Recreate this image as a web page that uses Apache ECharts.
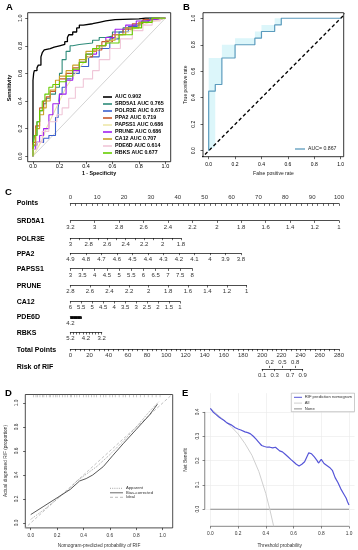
<!DOCTYPE html>
<html><head><meta charset="utf-8">
<script src="https://cdn.jsdelivr.net/npm/echarts@6/dist/echarts.min.js"></script>
<style>html,body{margin:0;padding:0;background:#fff}#c{width:358px;height:550px}</style>
</head><body><div id="c"></div>
<script>
// ---------------- DATA ----------------
// Panel A: ROC curves [1-specificity, sensitivity]
const rocNames = ['AUC 0.902','SRD5A1 AUC 0.765','POLR3E AUC 0.673','PPA2 AUC 0.719','PAPSS1 AUC 0.686','PRUNE AUC 0.686','CA12 AUC 0.707','PDE6D AUC 0.614','RBKS AUC 0.677'];
const rocColors = ['#000000','#2e8b7a','#3a5fcd','#c8582a','#eee8aa','#a020f0','#c9a227','#f0c6d8','#66cd00'];
const rocCombined = [[0,0],[0,0.48],[0.005,0.55],[0.01,0.6],[0.03,0.62],[0.04,0.64],[0.06,0.66],[0.07,0.72],[0.085,0.75],[0.1,0.77],[0.13,0.78],[0.16,0.79],[0.2,0.8],[0.24,0.81],[0.26,0.83],[0.27,0.86],[0.3,0.88],[0.33,0.9],[0.35,0.93],[0.38,0.95],[0.45,0.96],[0.5,0.97],[0.55,0.98],[0.62,0.99],[0.8,0.995],[0.85,1],[1,1]];
const rocSRD5A1 = [[0,0],[0.01,0.08],[0.03,0.15],[0.05,0.25],[0.08,0.33],[0.1,0.38],[0.13,0.42],[0.17,0.45],[0.2,0.5],[0.22,0.6],[0.25,0.7],[0.28,0.76],[0.3,0.8],[0.35,0.81],[0.45,0.82],[0.5,0.84],[0.55,0.86],[0.6,0.87],[0.68,0.9],[0.75,0.93],[0.82,0.95],[0.88,0.98],[0.93,1],[1,1]];
const rocPOLR3E = [[0,0],[0.01,0.05],[0.03,0.08],[0.08,0.1],[0.12,0.13],[0.17,0.15],[0.19,0.28],[0.2,0.35],[0.22,0.45],[0.25,0.5],[0.3,0.56],[0.35,0.6],[0.42,0.65],[0.5,0.72],[0.58,0.78],[0.65,0.85],[0.72,0.9],[0.8,0.94],[0.87,0.97],[0.92,0.99],[1,1]];
const rocPPA2 = [[0,0],[0.02,0.1],[0.05,0.22],[0.08,0.35],[0.1,0.4],[0.13,0.43],[0.17,0.47],[0.2,0.52],[0.25,0.56],[0.3,0.6],[0.35,0.64],[0.4,0.68],[0.45,0.72],[0.52,0.77],[0.6,0.83],[0.68,0.88],[0.75,0.92],[0.83,0.96],[0.9,0.99],[1,1]];
const rocPAPSS1 = [[0,0],[0.03,0.05],[0.07,0.12],[0.1,0.2],[0.15,0.3],[0.2,0.4],[0.25,0.5],[0.3,0.57],[0.35,0.64],[0.42,0.72],[0.5,0.78],[0.58,0.83],[0.65,0.87],[0.72,0.9],[0.8,0.94],[0.88,0.97],[1,1]];
const rocPRUNE = [[0,0],[0.02,0.05],[0.05,0.1],[0.08,0.15],[0.12,0.2],[0.15,0.3],[0.2,0.38],[0.25,0.45],[0.3,0.55],[0.35,0.62],[0.4,0.68],[0.48,0.74],[0.55,0.8],[0.62,0.86],[0.7,0.92],[0.78,0.95],[0.85,0.98],[0.9,0.99],[1,1]];
const rocCA12 = [[0,0],[0.02,0.08],[0.05,0.2],[0.08,0.3],[0.1,0.35],[0.13,0.4],[0.17,0.48],[0.2,0.55],[0.25,0.58],[0.3,0.62],[0.35,0.66],[0.4,0.7],[0.48,0.76],[0.55,0.8],[0.62,0.84],[0.7,0.88],[0.8,0.93],[0.9,0.97],[1,1]];
const rocPDE6D = [[0,0],[0.03,0.05],[0.07,0.1],[0.12,0.18],[0.18,0.25],[0.22,0.3],[0.27,0.35],[0.32,0.42],[0.38,0.5],[0.45,0.56],[0.5,0.62],[0.58,0.7],[0.66,0.78],[0.75,0.85],[0.83,0.91],[0.9,0.95],[0.96,0.98],[1,1]];
const rocRBKS = [[0,0],[0.01,0.05],[0.03,0.15],[0.05,0.25],[0.07,0.33],[0.09,0.4],[0.12,0.45],[0.15,0.5],[0.2,0.52],[0.25,0.54],[0.3,0.58],[0.35,0.63],[0.4,0.68],[0.45,0.74],[0.5,0.78],[0.55,0.8],[0.65,0.82],[0.75,0.88],[0.82,0.93],[0.9,0.97],[1,1]];
const rocCurves = [rocCombined,rocSRD5A1,rocPOLR3E,rocPPA2,rocPAPSS1,rocPRUNE,rocCA12,rocPDE6D,rocRBKS];
const rocStepped = [true,true,true,true,false,true,true,true,true];
const unitTicks = [0,0.2,0.4,0.6,0.8,1];

// Panel B: validation ROC
const rocB = [[0,0],[0,0.45],[0.05,0.45],[0.05,0.5],[0.1,0.5],[0.1,0.7],[0.2,0.7],[0.2,0.8],[0.35,0.8],[0.35,0.85],[0.4,0.85],[0.4,0.9],[0.5,0.9],[0.5,0.95],[0.55,0.95],[0.55,1],[1,1]];
const bandUpper = [[0,0],[0,0.7],[0.1,0.7],[0.1,0.8],[0.2,0.8],[0.2,0.85],[0.35,0.85],[0.35,0.9],[0.4,0.9],[0.4,0.95],[0.5,0.95],[0.5,1],[1,1]];
const bandLower = [[0.05,0.03],[0.05,0.45],[0.05,0.5],[0.1,0.5],[0.1,0.7],[0.2,0.7],[0.2,0.8],[0.35,0.8],[0.35,0.85],[0.4,0.85],[0.4,0.9],[0.5,0.9],[0.5,0.95],[0.55,0.95],[0.55,1],[1,1]];
const aucB = 'AUC= 0.867';

// Panel C: nomogram
const pointsLabels = [0,10,20,30,40,50,60,70,80,90,100];
const varNames = ['SRD5A1','POLR3E','PPA2','PAPSS1','PRUNE','CA12','PDE6D','RBKS'];
const varPointsMax = [100,41.2,63.5,45.4,65.6,40.8,4.0,11.7];
const varAtZero = [3.2,3,4.9,3,2.8,6,4.2,5.2];
const varAtMax = [1,1.8,3.8,8,1,1,2.2,3.2];
const srd5a1Labels = [3.2,3,2.8,2.6,2.4,2.2,2,1.8,1.6,1.4,1.2,1];
const polr3eLabels = [3,2.8,2.6,2.4,2.2,2,1.8];
const ppa2Labels = [4.9,4.8,4.7,4.6,4.5,4.4,4.3,4.2,4.1,4,3.9,3.8];
const papss1Labels = [3,3.5,4,4.5,5,5.5,6,6.5,7,7.5,8];
const pruneLabels = [2.8,2.6,2.4,2.2,2,1.8,1.6,1.4,1.2,1];
const ca12Labels = [6,5.5,5,4.5,4,3.5,3,2.5,2,1.5,1];
const pde6dLabels = [4.2];
const rbksLabels = [5.2,4.2,3.2];
const varLabels = [srd5a1Labels,polr3eLabels,ppa2Labels,papss1Labels,pruneLabels,ca12Labels,pde6dLabels,rbksLabels];
const varTickStep = [0.2,0.1,0.1,0.5,0.2,0.5,0.05,0.2];
const totalLabels = [0,20,40,60,80,100,120,140,160,180,200,220,240,260,280];
const totalMax = 280;
const riskTop = [0.2,0.5,0.8];
const riskBottom = [0.1,0.3,0.7,0.9];
const riskCenterTP = 221, riskSlope = 0.104;

// Panel D: calibration
const calApparent = [[0,0.03],[0.1,0.11],[0.2,0.2],[0.3,0.29],[0.35,0.35],[0.45,0.43],[0.5,0.47],[0.6,0.57],[0.7,0.68],[0.8,0.8],[0.9,0.93],[0.97,1.01]];
const calBias = [[0,0.07],[0.1,0.14],[0.2,0.21],[0.3,0.28],[0.37,0.35],[0.42,0.37],[0.47,0.4],[0.55,0.47],[0.62,0.56],[0.7,0.66],[0.8,0.78],[0.9,0.9],[0.96,0.99]];
const calIdeal = [[-0.05,-0.05],[1.1,1.1]];
const calRug = [0.02,0.04,0.05,0.07,0.09,0.1,0.12,0.14,0.15,0.17,0.19,0.2,0.22,0.24,0.26,0.28,0.3,0.31,0.33,0.35,0.37,0.4,0.42,0.44,0.46,0.48,0.5,0.53,0.55,0.57,0.6,0.62,0.64,0.67,0.7,0.72,0.75,0.78,0.8,0.83,0.86,0.89,0.92,0.95,0.98];

// Panel E: decision curve
const dcaModel = [[0,0.415],[0.02,0.4],[0.04,0.39],[0.06,0.38],[0.08,0.372],[0.1,0.365],[0.12,0.355],[0.15,0.347],[0.18,0.335],[0.2,0.33],[0.22,0.326],[0.25,0.318],[0.27,0.315],[0.29,0.31],[0.31,0.3],[0.33,0.288],[0.35,0.275],[0.37,0.262],[0.39,0.258],[0.41,0.255],[0.43,0.255],[0.45,0.252],[0.47,0.255],[0.48,0.248],[0.5,0.24],[0.52,0.236],[0.54,0.226],[0.56,0.216],[0.58,0.205],[0.6,0.195],[0.62,0.185],[0.64,0.178],[0.65,0.175],[0.66,0.185],[0.68,0.195],[0.69,0.2],[0.7,0.22],[0.71,0.232],[0.72,0.232],[0.73,0.228],[0.75,0.215],[0.77,0.2],[0.78,0.19],[0.79,0.195],[0.8,0.205],[0.81,0.2],[0.82,0.188],[0.84,0.18],[0.86,0.172],[0.88,0.16],[0.9,0.13],[0.92,0.11],[0.94,0.085],[0.96,0.065],[0.98,0.045],[0.99,0.03],[1,0.018]];
const dcaAll = [[0,0.415],[0.04,0.395],[0.08,0.375],[0.1,0.365],[0.15,0.34],[0.2,0.31],[0.25,0.27],[0.3,0.222],[0.35,0.155],[0.4,0.065],[0.43,-0.003],[0.457,-0.07]];
const dcaNone = [[0,0],[1,0]];
const dcaYTicks = [0,0.1,0.2,0.3,0.4];

// ---------------- BUILD ----------------
const FONT = '"Liberation Sans", Arial, Helvetica, sans-serif';
const grids=[], xAxis=[], yAxis=[], series=[], graphic=[];
function seq(a,b,s){const r=[];const n=Math.round(Math.abs(b-a)/s);const d=b>a?s:-s;for(let i=0;i<=n;i++)r.push(+(a+i*d).toFixed(4));return r;}
function fmt(v){return String(Math.round(v*100)/100);}
function fmt1(v){return (Math.round(v*10)/10).toFixed(1);}
function txt(x,y,s,o){o=o||{};graphic.push({type:'text',x:x,y:y,rotation:o.rot||0,silent:true,z:100,
  style:{text:s,font:(o.bold?'bold ':'')+(o.size||6)+'px '+FONT,fill:o.color||'#000',textAlign:o.align||'left',textVerticalAlign:'middle',align:o.align||'left',verticalAlign:'middle'}});}
function gline(x1,y1,x2,y2,color,w,dash){graphic.push({type:'line',silent:true,z:100,shape:{x1:x1,y1:y1,x2:x2,y2:y2},style:{stroke:color,lineWidth:w,lineDash:dash||null}});}
function plot(g,xr,yr,xt,yt,o){
  const gi=grids.length; grids.push(Object.assign({containLabel:false},g));
  const tc=o.tc||'#000';
  xAxis.push({gridIndex:gi,type:'value',min:xr[0],max:xr[1],axisLine:{show:false,onZero:false},
    splitLine:o.split?{show:true,lineStyle:{color:'#e9e9e9',width:0.6}}:{show:false},
    axisTick:{show:true,length:o.tl||2.5,lineStyle:{color:tc,width:0.6},customValues:xt},
    axisLabel:{customValues:xt,fontSize:o.fs||5.5,margin:o.xm,color:o.lc||'#000',fontFamily:FONT,formatter:fmt1}});
  yAxis.push({gridIndex:gi,type:'value',min:yr[0],max:yr[1],axisLine:{show:false,onZero:false},
    splitLine:o.split?{show:true,lineStyle:{color:'#e9e9e9',width:0.6}}:{show:false},
    axisTick:{show:true,length:o.tl||2.5,lineStyle:{color:tc,width:0.6},customValues:yt},
    axisLabel:{customValues:yt,fontSize:o.fs||5.5,margin:o.ym,rotate:90,color:o.lc||'#000',fontFamily:FONT,formatter:fmt1}});
  return {x:xAxis.length-1,y:yAxis.length-1};
}
function line(ax,data,color,w,dash,extra){series.push(Object.assign({type:'line',xAxisIndex:ax.x,yAxisIndex:ax.y,data:data,symbol:'none',showSymbol:false,
  lineStyle:{color:color,width:w,type:dash||'solid'},silent:true,animation:false},extra||{}));}

// ---- A ----
const gA = plot({left:27.7,top:12.7,width:143,height:149,show:true,borderColor:'#000',borderWidth:0.8},[-0.04,1.04],[-0.04,1.04],unitTicks,unitTicks,{xm:2,ym:4,fs:5.5});
line(gA,[[0,0],[1,1]],'#c8c8c8',0.8);
rocCurves.forEach((d,i)=>line(gA,d,rocColors[i],i===0?1.3:1.1,null,rocStepped[i]?{step:'start'}:{}));
rocNames.forEach((n,i)=>{const y=97+7*i; gline(103,y,112,y,rocColors[i],1.6); txt(115,y,n,{bold:true,size:5.3});});
txt(6,7.5,'A',{bold:true,size:9.5});
txt(99,174,'1 - Specificity',{bold:true,size:5.3,align:'center'});
txt(10,88,'Sensitivity',{bold:true,size:5.3,align:'center',rot:Math.PI/2});

// ---- B ----
const gB = plot({left:203,top:12.7,width:140.7,height:144,show:true,borderColor:'#000',borderWidth:0.8},[-0.043,1.023],[-0.045,1.042],unitTicks,unitTicks,{xm:5,ym:7,fs:5});
series.push({type:'custom',xAxisIndex:gB.x,yAxisIndex:gB.y,data:[[0,0]],silent:true,animation:false,z:1,
  renderItem:function(p,api){const pts=bandUpper.concat(bandLower.slice().reverse()).map(q=>api.coord(q));
    return {type:'polygon',shape:{points:pts},style:{fill:'#dcf6fa'}};}});
line(gB,[[-0.06,-0.06],[1.06,1.06]],'#000',1.3,[3.5,2.5]);
line(gB,rocB,'#5b9bbd',1.2);
gline(295,149,305,149,'#5b9bbd',1.3); txt(308,149,aucB,{size:5.2,color:'#222'});
txt(183,7.5,'B',{bold:true,size:9.5});
txt(273.4,174,'False positive rate',{size:5,align:'center',color:'#222'});
txt(186,84.7,'True positive rate',{size:5,align:'center',rot:Math.PI/2,color:'#222'});

// ---- C (nomogram) ----
const PX = 2.687, CL = 70.3;
function nomoAxis(gi,min,max,inverse,pos,labels,ticks,showLine,tickInside){
  xAxis.push({gridIndex:gi,type:'value',min:min,max:max,inverse:inverse,position:pos,
    axisLine:{show:showLine,onZero:false,lineStyle:{color:'#000',width:0.7}},
    axisTick:{show:true,inside:!!tickInside,length:2.2,lineStyle:{color:'#000',width:0.6},customValues:ticks},
    axisLabel:{customValues:labels,fontSize:6,margin:3.3,color:'#333',fontFamily:FONT,formatter:fmt},
    splitLine:{show:false}});
}
function nomoGrid(lineY,left,width,pos){
  const gi=grids.length; grids.push({left:left,top:pos==='top'?lineY:lineY-1,width:width,height:1,containLabel:false});
  yAxis.push({gridIndex:gi,type:'value',show:false,min:0,max:1});
  return gi;
}
// Points
let gi = nomoGrid(203.7,CL,100*PX,'top');
nomoAxis(gi,0,100,false,'top',pointsLabels,seq(0,100,2),true,true);
txt(16.7,203.5,'Points',{bold:true,size:7});
// Variables
const rowY = [220.7,238,253,268.7,285.3,301.3,316.7,332.3];
varNames.forEach((n,i)=>{
  const a=varAtZero[i], b=varAtMax[i];
  const g=nomoGrid(rowY[i],CL,varPointsMax[i]*PX,'bottom');
  nomoAxis(g,Math.min(a,b),Math.max(a,b),a>b,'bottom',varLabels[i],seq(a,b,varTickStep[i]),true,false);
  txt(16.7,rowY[i]+0.8,n,{bold:true,size:7});
});
// Total points
const tpPx = 100*PX/totalMax;
gi = nomoGrid(349,CL,totalMax*tpPx,'bottom');
nomoAxis(gi,0,totalMax,false,'bottom',totalLabels,seq(0,totalMax,5),true,false);
txt(16.7,350,'Total Points',{bold:true,size:7});
// Risk
function riskTP(p){return riskCenterTP+Math.log(p/(1-p))/riskSlope;}
const rMin=riskTP(riskBottom[0]), rMax=riskTP(riskBottom[riskBottom.length-1]);
gi = grids.length; grids.push({left:CL+rMin*tpPx,top:368,width:(rMax-rMin)*tpPx,height:1,containLabel:false});
yAxis.push({gridIndex:gi,type:'value',show:false,min:0,max:1});
const riskFmt = v=>{const all=riskTop.concat(riskBottom);let best=all[0];all.forEach(p=>{if(Math.abs(riskTP(p)-v)<Math.abs(riskTP(best)-v))best=p;});return String(best);};
xAxis.push({gridIndex:gi,type:'value',min:rMin,max:rMax,position:'top',axisLine:{show:false,onZero:false},
  axisTick:{show:true,length:2.2,lineStyle:{color:'#000',width:0.6},customValues:riskTop.map(riskTP)},
  axisLabel:{customValues:riskTop.map(riskTP),fontSize:6,margin:3,color:'#333',fontFamily:FONT,formatter:riskFmt},splitLine:{show:false}});
xAxis.push({gridIndex:gi,type:'value',min:rMin,max:rMax,position:'bottom',axisLine:{show:true,onZero:false,lineStyle:{color:'#000',width:0.7}},
  axisTick:{show:true,length:2.2,lineStyle:{color:'#000',width:0.6},customValues:riskBottom.map(riskTP)},
  axisLabel:{customValues:riskBottom.map(riskTP),fontSize:6,margin:3,color:'#333',fontFamily:FONT,formatter:riskFmt},splitLine:{show:false}});
txt(16.7,366.7,'Risk of RIF',{bold:true,size:7});
txt(5,192.7,'C',{bold:true,size:9.5});

// ---- D ----
const gD = plot({left:25.3,top:394.5,width:147.4,height:133.4,show:true,borderColor:'#000',borderWidth:0.7},[-0.041,1.076],[-0.041,1.071],unitTicks,unitTicks,{xm:5,ym:6.5,fs:4.8,tl:2.2,lc:'#333'});
line(gD,calIdeal,'#a8a8a8',0.7,[3,2]);
line(gD,calApparent,'#8a8a8a',0.8,[1,1.2]);
line(gD,calBias,'#444',0.9);
series.push({type:'scatter',xAxisIndex:gD.x,yAxisIndex:gD.y,data:calRug.map(v=>[v,1.058]),symbol:'rect',symbolSize:[0.5,2.5],itemStyle:{color:'#777'},silent:true,animation:false});
const dLeg=[['Apparent','#8a8a8a',[1,1.2]],['Bias-corrected','#444',null],['Ideal','#a8a8a8',[3,2]]];
dLeg.forEach((l,i)=>{const y=488.3+4.5*i; gline(110,y,123,y,l[1],0.8,l[2]); txt(126,y,l[0],{size:4.2,color:'#333'});});
txt(5,393,'D',{bold:true,size:9.5});
txt(99,546,'Nomogram-predicted probability of RIF',{size:4.8,align:'center',color:'#333'});
txt(6,461,'Actual diagnosed RIF (proportion)',{size:4.8,align:'center',rot:Math.PI/2,color:'#333'});

// ---- E ----
const gE = plot({left:204.75,top:393.2,width:149.8,height:133.1},[-0.04,1.04],[-0.07,0.477],unitTicks,dcaYTicks,{xm:5,ym:5,fs:4.8,tl:2.2,lc:'#333',tc:'#333',split:true});
line(gE,[[unitTicks[0],-0.07],[unitTicks[unitTicks.length-1],-0.07]],'#333',0.6,null,{clip:false});
line(gE,[[-0.04,dcaYTicks[0]],[-0.04,dcaYTicks[dcaYTicks.length-1]]],'#333',0.6,null,{clip:false});
line(gE,dcaNone,'#8c8c8c',1.1);
line(gE,dcaAll,'#cfcfcf',1.0);
line(gE,dcaModel,'#5656d8',1.2);
graphic.push({type:'rect',silent:true,z:99,shape:{x:291.3,y:393.2,width:63.2,height:18.5},style:{fill:'#fff',stroke:'#999',lineWidth:0.5}});
const eLeg=[['RIF prediction nomogram','#5656d8'],['All','#cfcfcf'],['None','#8c8c8c']];
eLeg.forEach((l,i)=>{const y=397.3+5.8*i; gline(294,y,302,y,l[1],1.0); txt(304.7,y,l[0],{size:4.2,color:'#333'});});
txt(182,393,'E',{bold:true,size:9.5});
txt(279.7,546,'Threshold probability',{size:4.8,align:'center',color:'#333'});
txt(186,460,'Net Benefit',{size:4.8,align:'center',rot:Math.PI/2,color:'#333'});

const chart = echarts.init(document.getElementById('c'),null,{renderer:'canvas',width:358,height:550});
chart.setOption({animation:false,backgroundColor:'#fff',grid:grids,xAxis:xAxis,yAxis:yAxis,series:series,graphic:graphic});
</script></body></html>
